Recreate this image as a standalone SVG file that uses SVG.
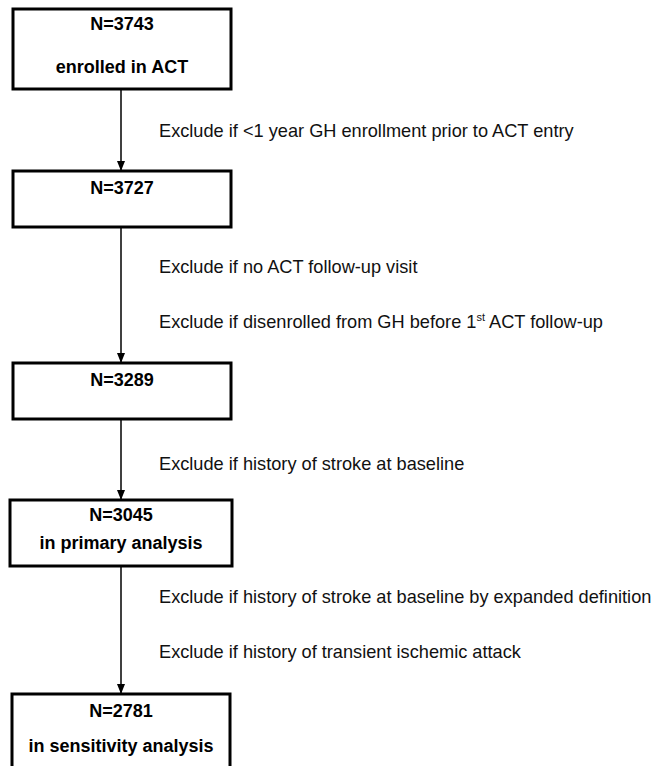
<svg xmlns="http://www.w3.org/2000/svg" width="655" height="766" viewBox="0 0 655 766">
<style>
.box{fill:#fff;stroke:#000;stroke-width:3}
.lbl{font-family:"Liberation Sans",Arial,sans-serif;font-size:18px;font-weight:bold;text-anchor:middle;fill:#000}
.ex{font-family:"Liberation Sans",Arial,sans-serif;font-size:18.2px;fill:#111}
.con{stroke:#000;stroke-width:1.5;fill:none}
</style>
<defs>
<marker id="ah" markerWidth="10" markerHeight="10" refX="10" refY="5" orient="auto" markerUnits="userSpaceOnUse">
<path d="M0,1 L10,5 L0,9 Z" fill="#000"/>
</marker>
</defs>
<rect width="655" height="766" fill="#fff"/>
<g id="connectors">
<line class="con" x1="121" y1="89" x2="121" y2="171" marker-end="url(#ah)"/>
<line class="con" x1="121" y1="227" x2="121" y2="363" marker-end="url(#ah)"/>
<line class="con" x1="121" y1="419" x2="121" y2="500" marker-end="url(#ah)"/>
<line class="con" x1="121" y1="566" x2="121" y2="694" marker-end="url(#ah)"/>
<text class="ex" x="159" y="137">Exclude if &lt;1 year GH enrollment prior to ACT entry</text>
<text class="ex" x="159" y="273">Exclude if no ACT follow-up visit</text>
<text class="ex" x="159" y="328">Exclude if disenrolled from GH before 1<tspan font-size="11" dy="-7">st</tspan><tspan dy="7"> ACT follow-up</tspan></text>
<text class="ex" x="159" y="470">Exclude if history of stroke at baseline</text>
<text class="ex" x="159" y="603">Exclude if history of stroke at baseline by expanded definition</text>
<text class="ex" x="159" y="658">Exclude if history of transient ischemic attack</text>
</g>
<g id="n1">
<rect class="box" x="13" y="9" width="218" height="80"/>
<text class="lbl" x="122" y="30">N=3743</text>
<text class="lbl" x="122" y="73">enrolled in ACT</text>
</g>
<g id="n2">
<rect class="box" x="13" y="171" width="218" height="56"/>
<text class="lbl" x="122" y="194">N=3727</text>
</g>
<g id="n3">
<rect class="box" x="13" y="363" width="218" height="56"/>
<text class="lbl" x="122" y="386">N=3289</text>
</g>
<g id="n4">
<rect class="box" x="10" y="500" width="222" height="66"/>
<text class="lbl" x="121" y="521">N=3045</text>
<text class="lbl" x="121" y="549">in primary analysis</text>
</g>
<g id="n5">
<rect class="box" x="12" y="694" width="218" height="90"/>
<text class="lbl" x="121" y="717">N=2781</text>
<text class="lbl" x="121" y="752">in sensitivity analysis</text>
</g>
</svg>
